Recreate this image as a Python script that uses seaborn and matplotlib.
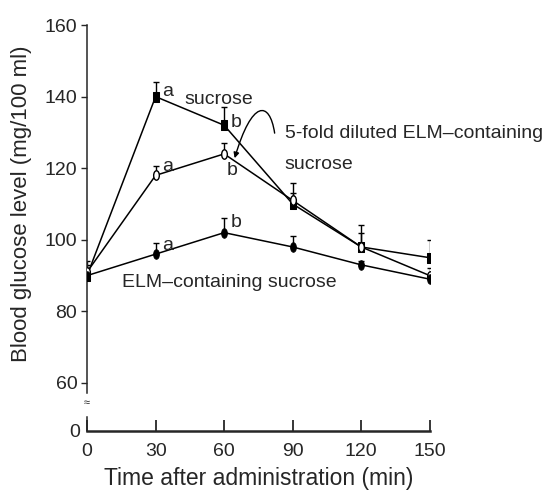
import numpy as np
import pandas as pd
import matplotlib
matplotlib.use("Agg")
import matplotlib.pyplot as plt
import seaborn as sns
from matplotlib.path import Path
from matplotlib.patches import FancyArrowPatch
from matplotlib.transforms import Affine2D

# --- data ---
times = [0, 30, 60, 90, 120, 150]
groups = ["sucrose", "5-fold diluted ELM–containing sucrose", "ELM–containing sucrose"]
sucrose = [90, 140, 132, 110, 98, 95]
sucrose_err = [4, 4, 5, 6, 6, 5]
diluted = [91, 118, 124, 111, 98, 90]
diluted_err = [2, 2.5, 3, 2, 4, 2]
elm = [90, 96, 102, 98, 93, 89]
elm_err = [1, 3, 4, 3, 1, 1]
# significance letters at 30 and 60 min
letters_30 = ["a", "a", "a"]
letters_60 = ["b", "b", "b"]

values = [sucrose, diluted, elm]
errors = [sucrose_err, diluted_err, elm_err]

df = pd.DataFrame({
    "time": times * 3,
    "glucose": sucrose + diluted + elm,
    "group": np.repeat(groups, len(times)),
})

sns.set_style("ticks")
plt.rcParams["font.family"] = ["Liberation Sans", "DejaVu Sans"]
plt.rcParams["font.size"] = 14

# narrow markers like the scanned figure
rect = Path([(-0.3, -0.5), (0.3, -0.5), (0.3, 0.5), (-0.3, 0.5), (-0.3, -0.5)],
            [Path.MOVETO, Path.LINETO, Path.LINETO, Path.LINETO, Path.CLOSEPOLY])
ellipse = Path.unit_circle().transformed(Affine2D().scale(0.6, 1.0))
markers = {groups[0]: rect, groups[1]: ellipse, groups[2]: ellipse}

fig = plt.figure(figsize=(5.51, 4.91), dpi=100)
ax = fig.add_axes([0.158, 0.1996, 0.622, 0.7494])
ax0 = fig.add_axes([0.158, 0.1222, 0.622, 0.0285])

sns.lineplot(data=df, x="time", y="glucose", hue="group", style="group",
             markers=markers, dashes=False, palette=["black"] * 3,
             markersize=6.8, markeredgecolor="black", linewidth=1.1,
             legend=False, ax=ax, zorder=3)

# open marker for the diluted group
lines = ax.get_lines()
lines[1].set_markerfacecolor("white")
lines[1].set_markeredgewidth(1.0)

# upper-only error bars
for vals, errs in zip(values, errors):
    eb = ax.errorbar(times, vals, yerr=[np.zeros(len(errs)), errs], fmt="none",
                     ecolor="black", elinewidth=1.0, capsize=2.4, capthick=1.0, zorder=2)
    eb[1][0].set_visible(False)

# letters next to points (offsets in points)
off_30 = [(5, 3.6), (5, 6.5), (5, 6.5)]
off_60 = [(5, 2), (2, -12), (5, 7)]
for vals, la, lb, oa, ob in zip(values, letters_30, letters_60, off_30, off_60):
    ax.annotate(la, (30, vals[1]), xytext=oa, textcoords="offset points",
                fontsize=14, ha="left", va="center")
    ax.annotate(lb, (60, vals[2]), xytext=ob, textcoords="offset points",
                fontsize=14, ha="left", va="center")

# group labels
ax.text(42.5, 139.3, groups[0], ha="left", va="center", fontsize=14)
ax.text(86.5, 129.8, "5-fold diluted ELM–containing", ha="left", va="center",
        fontsize=14, clip_on=False)
ax.text(86.5, 121.0, "sucrose", ha="left", va="center", fontsize=14)
ax.text(15.3, 88, groups[2], ha="left", va="center", fontsize=14)

# hooked pointer from the label to the diluted curve
hook = Path([(82.1, 129.8), (79.9, 139.1), (72.1, 139.1), (64.6, 122.8)],
            [Path.MOVETO, Path.CURVE4, Path.CURVE4, Path.CURVE4])
ax.add_patch(FancyArrowPatch(path=hook, arrowstyle="-|>", color="black", lw=1.0,
                             mutation_scale=8, transform=ax.transData))

ax.set_xlim(0, 150)
ax.set_ylim(57.2, 160)
ax.set_yticks([60, 80, 100, 120, 140, 160])
ax.set_xticks([])
ax.set_xlabel("")
ax.set_ylabel("Blood glucose level (mg/100 ml)", fontsize=16)
ax.yaxis.set_label_coords(-0.16, 0.514)
ax.tick_params(axis="y", direction="out", length=4, width=1, pad=3, labelsize=14)
for s in ["top", "right", "bottom"]:
    ax.spines[s].set_visible(False)
ax.spines["left"].set_linewidth(1.1)
ax.set_facecolor("none")

ax0.set_xlim(0, 150)
ax0.set_ylim(0, 4)
ax0.set_xticks(times)
ax0.set_yticks([0])
ax0.tick_params(axis="x", direction="in", length=8, width=1.3, pad=9, labelsize=14)
ax0.tick_params(axis="y", length=0, pad=5, labelsize=14)
for s in ["top", "right"]:
    ax0.spines[s].set_visible(False)
ax0.spines["bottom"].set_linewidth(1.8)
ax0.spines["left"].set_linewidth(1.1)
ax0.set_facecolor("none")
ax0.set_xlabel("Time after administration (min)", fontsize=16.5, labelpad=5)

fig.text(87 / 551, 1 - 403 / 491, "≈", ha="center", va="center", fontsize=8)

fig.savefig("out.png", dpi=100)
